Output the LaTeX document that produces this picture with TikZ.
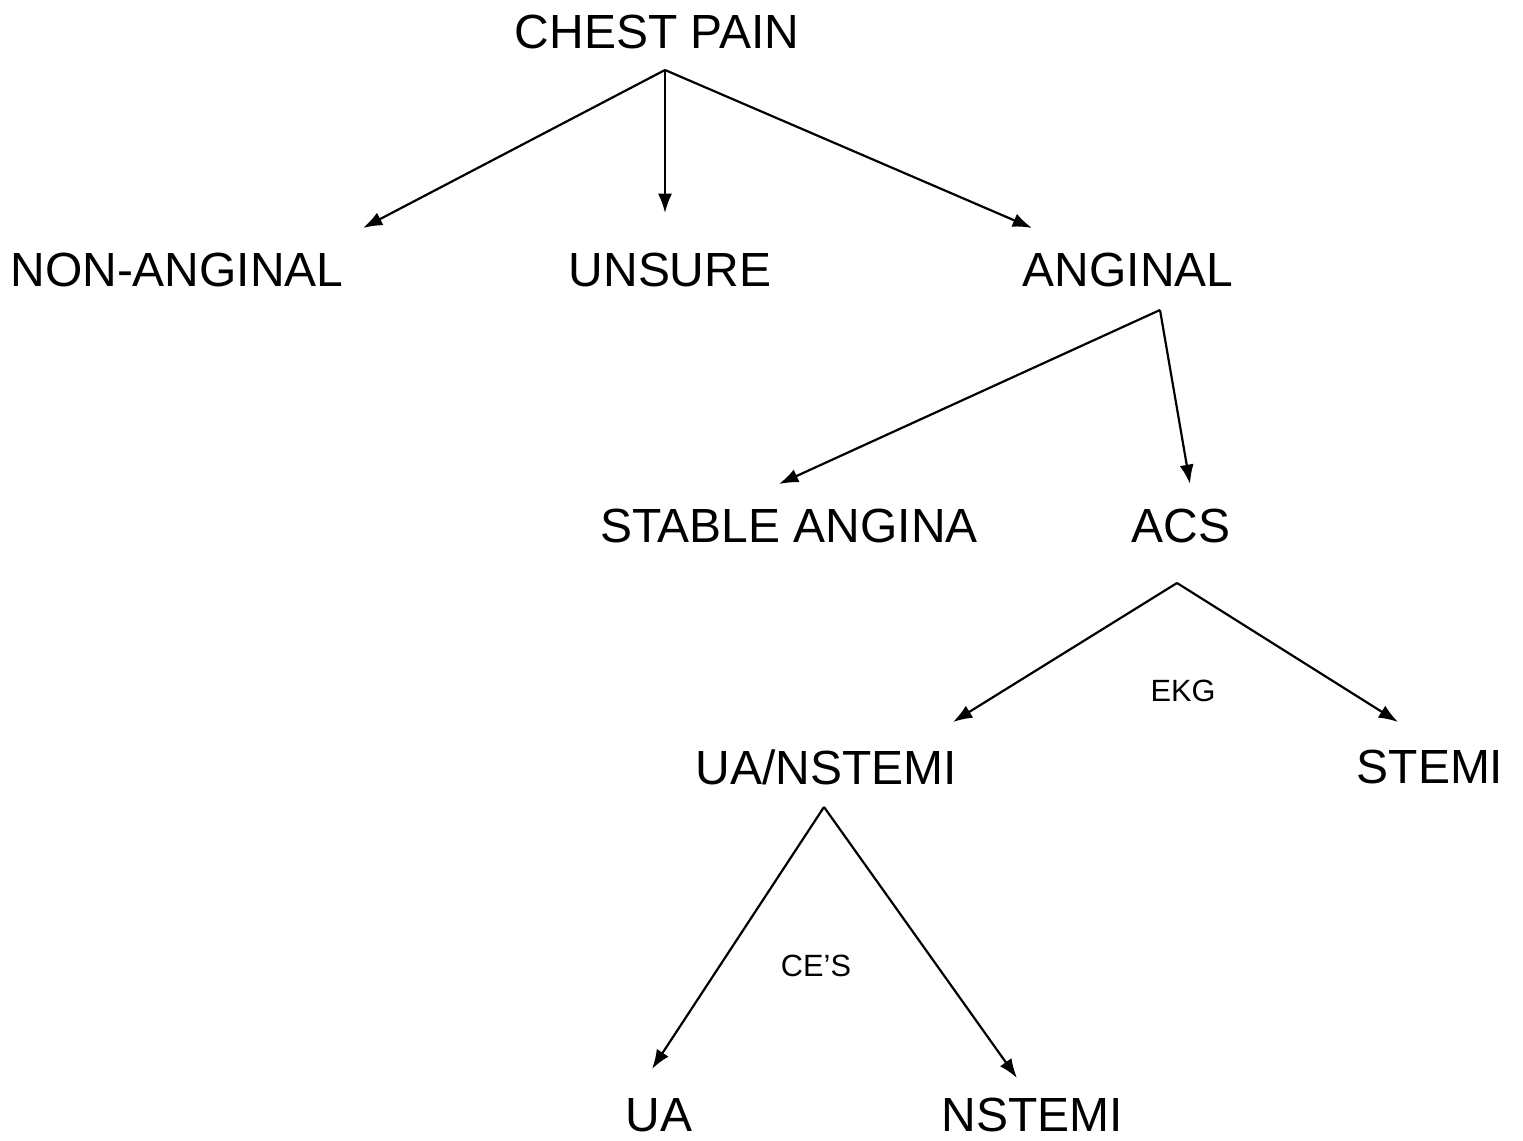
\documentclass[tikz,border=0pt]{standalone}
\usepackage{fontspec}
\setmainfont{Liberation Sans}
\usepackage{tikz}
\usetikzlibrary{arrows.meta}

\tikzset{
  term/.style={inner sep=0pt,font=\fontsize{27.3}{31}\selectfont},
  cue/.style={inner sep=0pt,font=\fontsize{17.5}{20}\selectfont},
  link/.style={-{Latex[length=11pt,width=8pt]},line width=1.25pt}
}

\begin{document}
\begin{tikzpicture}[x=0.02cm,y=-0.02cm]
  \useasboundingbox (0,0) rectangle (1523,1141);
  % terms
  \node[term] (chest) at (657,32) {CHEST PAIN};
  \node[term] (nonang) at (177,270) {NON-ANGINAL};
  \node[term] (unsure) at (670,270) {UNSURE};
  \node[term] (anginal) at (1128,270) {ANGINAL};
  \node[term] (stable) at (789,526) {STABLE ANGINA};
  \node[term] (acs) at (1181,526) {ACS};
  \node[term] (uansti) at (826,767) {UA/NSTEMI};
  \node[term] (stemi) at (1430,767) {STEMI};
  \node[term] (ua) at (659,1115) {UA};
  \node[term] (nstemi) at (1032,1115) {NSTEMI};
  % cues
  \node[cue] (ekg) at (1183,691) {EKG};
  \node[cue] (ces) at (816,966) {CE’S};
  % branch points
  \coordinate (chest-out) at (665,70);
  \coordinate (anginal-out) at (1160,310);
  \coordinate (acs-out) at (1177,583);
  \coordinate (uansti-out) at (824,807);
  \coordinate (nonang-in) at (363,228);
  \coordinate (unsure-in) at (665,213);
  \coordinate (anginal-in) at (1032,228);
  \coordinate (stable-in) at (779,484);
  \coordinate (acs-in) at (1190,484);
  \coordinate (uansti-in) at (953,722);
  \coordinate (stemi-in) at (1398,722);
  \coordinate (ua-in) at (652,1069);
  \coordinate (nstemi-in) at (1017,1078);
  % connectors
  \draw[link] (chest-out) -- (nonang-in);
  \draw[link] (chest-out) -- (unsure-in);
  \draw[link] (chest-out) -- (anginal-in);
  \draw[link] (anginal-out) -- (stable-in);
  \draw[link] (anginal-out) -- (acs-in);
  \draw[link] (acs-out) -- (uansti-in);
  \draw[link] (acs-out) -- (stemi-in);
  \draw[link] (uansti-out) -- (ua-in);
  \draw[link] (uansti-out) -- (nstemi-in);
\end{tikzpicture}
\end{document}
